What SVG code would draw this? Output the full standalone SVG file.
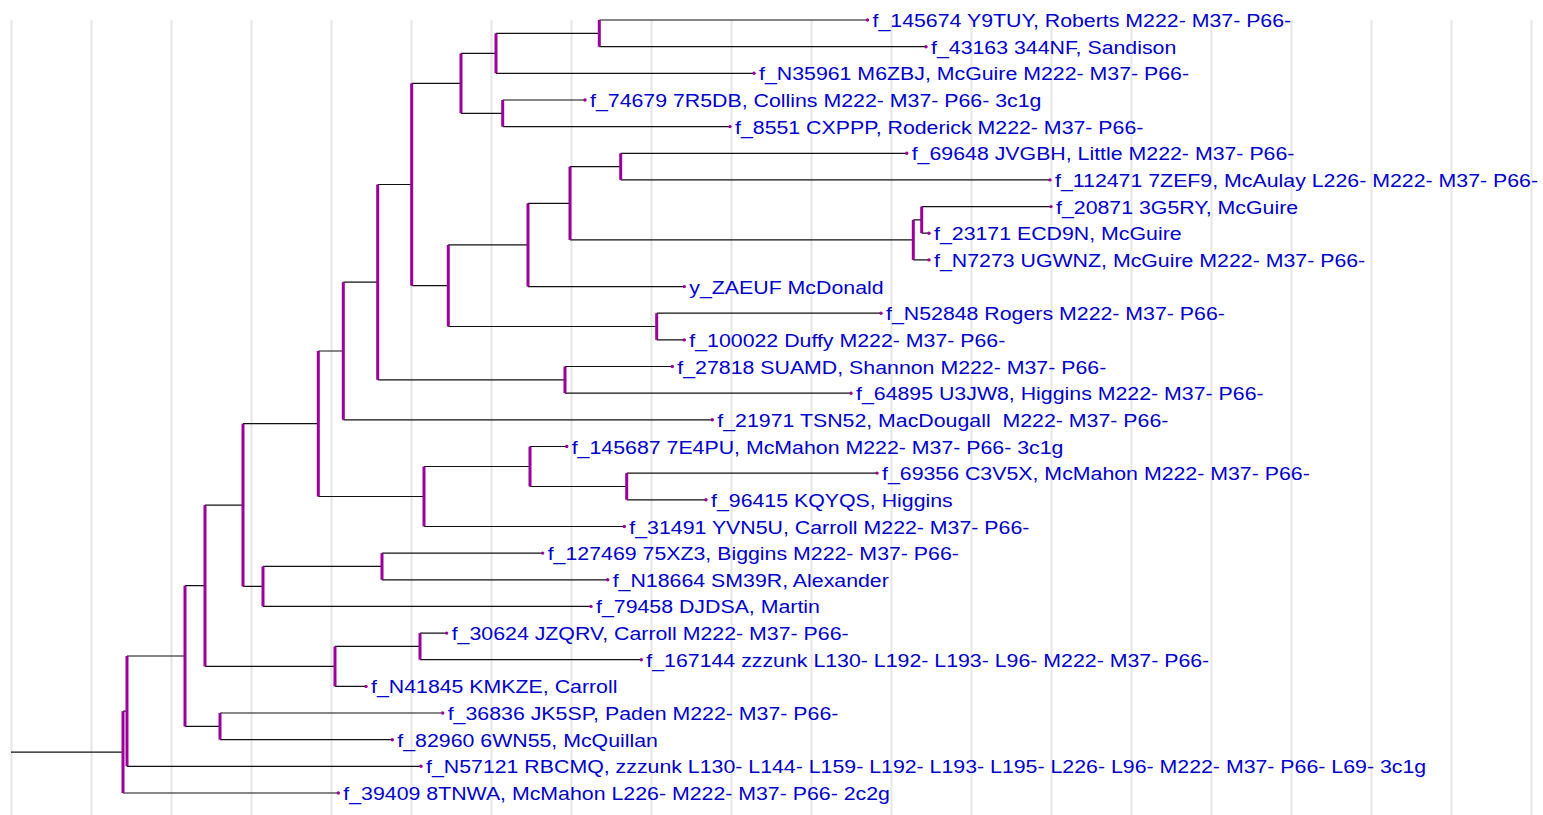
<svg xmlns="http://www.w3.org/2000/svg" width="1543" height="815" viewBox="0 0 1543 815">
<style>
.grid line{stroke:#e6e6e6;stroke-width:2}
.edge{stroke:#111;stroke-width:1.2;fill:none}
.bar{stroke:#990099;stroke-width:3}
.dot{fill:#990099}
.lbl{font-family:"Liberation Sans",Arial,sans-serif;font-size:18.5px;fill:#0000cc;white-space:pre}
</style>
<rect width="1543" height="815" fill="#ffffff"/>
<g class="grid">
<line x1="11.5" y1="20" x2="11.5" y2="815"/><line x1="91.5" y1="20" x2="91.5" y2="815"/><line x1="171.5" y1="20" x2="171.5" y2="815"/><line x1="251.5" y1="20" x2="251.5" y2="815"/><line x1="331.5" y1="20" x2="331.5" y2="815"/><line x1="411.5" y1="20" x2="411.5" y2="815"/><line x1="491.5" y1="20" x2="491.5" y2="815"/><line x1="571.5" y1="20" x2="571.5" y2="815"/><line x1="651.5" y1="20" x2="651.5" y2="815"/><line x1="731.5" y1="20" x2="731.5" y2="815"/><line x1="811.5" y1="20" x2="811.5" y2="815"/><line x1="891.5" y1="20" x2="891.5" y2="815"/><line x1="971.5" y1="20" x2="971.5" y2="815"/><line x1="1051.5" y1="20" x2="1051.5" y2="815"/><line x1="1131.5" y1="20" x2="1131.5" y2="815"/><line x1="1211.5" y1="20" x2="1211.5" y2="815"/><line x1="1291.5" y1="20" x2="1291.5" y2="815"/><line x1="1371.5" y1="20" x2="1371.5" y2="815"/><line x1="1451.5" y1="20" x2="1451.5" y2="815"/><line x1="1531.5" y1="20" x2="1531.5" y2="815"/>
</g>
<g id="connectors" class="edge">
<path d="M11 752.1H123"/>
<path d="M123 711.2H127M123 793H338.3"/>
<path d="M127 656H185M127 766.3H421"/>
<path d="M185 585.7H205M185 726.4H220"/>
<path d="M220 713H442.7M220 739.7H392.3"/>
<path d="M205 505.1H243M205 666.4H335"/>
<path d="M335 646.4H420M335 686.4H366"/>
<path d="M420 633.1H446.7M420 659.7H641.3"/>
<path d="M243 423.7H318.3M243 586.4H263"/>
<path d="M263 566.4H382M263 606.4H591"/>
<path d="M382 553.1H542.7M382 579.8H607.7"/>
<path d="M318.3 351H343.3M318.3 496.5H424"/>
<path d="M424 466.5H530M424 526.5H624.3"/>
<path d="M530 446.5H566.7M530 486.5H626.7"/>
<path d="M626.7 473.1H877M626.7 499.8H706"/>
<path d="M343.3 282.2H377.7M343.3 419.8H712.3"/>
<path d="M377.7 184.5H411.7M377.7 379.8H565"/>
<path d="M565 366.5H672.3M565 393.2H851"/>
<path d="M411.7 83.3H461M411.7 285.7H448.3"/>
<path d="M461 53.3H496M461 113.3H502.7"/>
<path d="M496 33.3H599.3M496 73.3H754"/>
<path d="M599.3 20H867.5M599.3 46.7H926"/>
<path d="M502.7 100H585M502.7 126.6H730"/>
<path d="M448.3 244.9H528M448.3 326.5H656.7"/>
<path d="M656.7 313.2H881M656.7 339.9H684.3"/>
<path d="M528 203.3H570M528 286.6H684.3"/>
<path d="M570 166.6H620.7M570 239.9H913.3"/>
<path d="M620.7 153.3H906.7M620.7 179.9H1050"/>
<path d="M913.3 219.9H921.7M913.3 259.9H929"/>
<path d="M921.7 206.6H1051M921.7 233.2H929"/>
</g>
<g id="internal-nodes" class="bar">
<line id="n_root" x1="123" y1="711.2" x2="123" y2="793"/>
<line id="n_AB" x1="127" y1="656" x2="127" y2="766.3"/>
<line id="n_AA" x1="185" y1="585.7" x2="185" y2="726.4"/>
<line id="n_Z" x1="220" y1="713" x2="220" y2="739.7"/>
<line id="n_Y" x1="205" y1="505.1" x2="205" y2="666.4"/>
<line id="n_X" x1="335" y1="646.4" x2="335" y2="686.4"/>
<line id="n_W" x1="420" y1="633.1" x2="420" y2="659.7"/>
<line id="n_V" x1="243" y1="423.7" x2="243" y2="586.4"/>
<line id="n_U" x1="263" y1="566.4" x2="263" y2="606.4"/>
<line id="n_T" x1="382" y1="553.1" x2="382" y2="579.8"/>
<line id="n_S" x1="318.3" y1="351" x2="318.3" y2="496.5"/>
<line id="n_R" x1="424" y1="466.5" x2="424" y2="526.5"/>
<line id="n_Q" x1="530" y1="446.5" x2="530" y2="486.5"/>
<line id="n_P" x1="626.7" y1="473.1" x2="626.7" y2="499.8"/>
<line id="n_O" x1="343.3" y1="282.2" x2="343.3" y2="419.8"/>
<line id="n_N" x1="377.7" y1="184.5" x2="377.7" y2="379.8"/>
<line id="n_M" x1="565" y1="366.5" x2="565" y2="393.2"/>
<line id="n_L" x1="411.7" y1="83.3" x2="411.7" y2="285.7"/>
<line id="n_D" x1="461" y1="53.3" x2="461" y2="113.3"/>
<line id="n_B" x1="496" y1="33.3" x2="496" y2="73.3"/>
<line id="n_A" x1="599.3" y1="20" x2="599.3" y2="46.7"/>
<line id="n_C" x1="502.7" y1="100" x2="502.7" y2="126.6"/>
<line id="n_K" x1="448.3" y1="244.9" x2="448.3" y2="326.5"/>
<line id="n_J" x1="656.7" y1="313.2" x2="656.7" y2="339.9"/>
<line id="n_I" x1="528" y1="203.3" x2="528" y2="286.6"/>
<line id="n_H" x1="570" y1="166.6" x2="570" y2="239.9"/>
<line id="n_E" x1="620.7" y1="153.3" x2="620.7" y2="179.9"/>
<line id="n_G" x1="913.3" y1="219.9" x2="913.3" y2="259.9"/>
<line id="n_F" x1="921.7" y1="206.6" x2="921.7" y2="233.2"/>
</g>
<g id="leaf0"><circle class="dot" cx="867.5" cy="20" r="1.7"/><text class="lbl" transform="translate(872.5,27) scale(1.153,1)">f_145674 Y9TUY, Roberts M222- M37- P66-</text></g>
<g id="leaf1"><circle class="dot" cx="926" cy="46.7" r="1.7"/><text class="lbl" transform="translate(931,53.7) scale(1.153,1)">f_43163 344NF, Sandison</text></g>
<g id="leaf2"><circle class="dot" cx="754" cy="73.3" r="1.7"/><text class="lbl" transform="translate(759,80.3) scale(1.153,1)">f_N35961 M6ZBJ, McGuire M222- M37- P66-</text></g>
<g id="leaf3"><circle class="dot" cx="585" cy="100" r="1.7"/><text class="lbl" transform="translate(590,107) scale(1.153,1)">f_74679 7R5DB, Collins M222- M37- P66- 3c1g</text></g>
<g id="leaf4"><circle class="dot" cx="730" cy="126.6" r="1.7"/><text class="lbl" transform="translate(735,133.6) scale(1.153,1)">f_8551 CXPPP, Roderick M222- M37- P66-</text></g>
<g id="leaf5"><circle class="dot" cx="906.7" cy="153.3" r="1.7"/><text class="lbl" transform="translate(911.7,160.3) scale(1.153,1)">f_69648 JVGBH, Little M222- M37- P66-</text></g>
<g id="leaf6"><circle class="dot" cx="1050" cy="179.9" r="1.7"/><text class="lbl" transform="translate(1055,186.9) scale(1.153,1)">f_112471 7ZEF9, McAulay L226- M222- M37- P66-</text></g>
<g id="leaf7"><circle class="dot" cx="1051" cy="206.6" r="1.7"/><text class="lbl" transform="translate(1056,213.6) scale(1.153,1)">f_20871 3G5RY, McGuire</text></g>
<g id="leaf8"><circle class="dot" cx="929" cy="233.2" r="1.7"/><text class="lbl" transform="translate(934,240.2) scale(1.153,1)">f_23171 ECD9N, McGuire</text></g>
<g id="leaf9"><circle class="dot" cx="929" cy="259.9" r="1.7"/><text class="lbl" transform="translate(934,266.9) scale(1.153,1)">f_N7273 UGWNZ, McGuire M222- M37- P66-</text></g>
<g id="leaf10"><circle class="dot" cx="684.3" cy="286.6" r="1.7"/><text class="lbl" transform="translate(689.3,293.6) scale(1.153,1)">y_ZAEUF McDonald</text></g>
<g id="leaf11"><circle class="dot" cx="881" cy="313.2" r="1.7"/><text class="lbl" transform="translate(886,320.2) scale(1.153,1)">f_N52848 Rogers M222- M37- P66-</text></g>
<g id="leaf12"><circle class="dot" cx="684.3" cy="339.9" r="1.7"/><text class="lbl" transform="translate(689.3,346.9) scale(1.153,1)">f_100022 Duffy M222- M37- P66-</text></g>
<g id="leaf13"><circle class="dot" cx="672.3" cy="366.5" r="1.7"/><text class="lbl" transform="translate(677.3,373.5) scale(1.153,1)">f_27818 SUAMD, Shannon M222- M37- P66-</text></g>
<g id="leaf14"><circle class="dot" cx="851" cy="393.2" r="1.7"/><text class="lbl" transform="translate(856,400.2) scale(1.153,1)">f_64895 U3JW8, Higgins M222- M37- P66-</text></g>
<g id="leaf15"><circle class="dot" cx="712.3" cy="419.8" r="1.7"/><text class="lbl" xml:space="preserve" transform="translate(717.3,426.8) scale(1.153,1)">f_21971 TSN52, MacDougall  M222- M37- P66-</text></g>
<g id="leaf16"><circle class="dot" cx="566.7" cy="446.5" r="1.7"/><text class="lbl" transform="translate(571.7,453.5) scale(1.153,1)">f_145687 7E4PU, McMahon M222- M37- P66- 3c1g</text></g>
<g id="leaf17"><circle class="dot" cx="877" cy="473.1" r="1.7"/><text class="lbl" transform="translate(882,480.1) scale(1.153,1)">f_69356 C3V5X, McMahon M222- M37- P66-</text></g>
<g id="leaf18"><circle class="dot" cx="706" cy="499.8" r="1.7"/><text class="lbl" transform="translate(711,506.8) scale(1.153,1)">f_96415 KQYQS, Higgins</text></g>
<g id="leaf19"><circle class="dot" cx="624.3" cy="526.5" r="1.7"/><text class="lbl" transform="translate(629.3,533.5) scale(1.153,1)">f_31491 YVN5U, Carroll M222- M37- P66-</text></g>
<g id="leaf20"><circle class="dot" cx="542.7" cy="553.1" r="1.7"/><text class="lbl" transform="translate(547.7,560.1) scale(1.153,1)">f_127469 75XZ3, Biggins M222- M37- P66-</text></g>
<g id="leaf21"><circle class="dot" cx="607.7" cy="579.8" r="1.7"/><text class="lbl" transform="translate(612.7,586.8) scale(1.153,1)">f_N18664 SM39R, Alexander</text></g>
<g id="leaf22"><circle class="dot" cx="591" cy="606.4" r="1.7"/><text class="lbl" transform="translate(596,613.4) scale(1.153,1)">f_79458 DJDSA, Martin</text></g>
<g id="leaf23"><circle class="dot" cx="446.7" cy="633.1" r="1.7"/><text class="lbl" transform="translate(451.7,640.1) scale(1.153,1)">f_30624 JZQRV, Carroll M222- M37- P66-</text></g>
<g id="leaf24"><circle class="dot" cx="641.3" cy="659.7" r="1.7"/><text class="lbl" transform="translate(646.3,666.7) scale(1.153,1)">f_167144 zzzunk L130- L192- L193- L96- M222- M37- P66-</text></g>
<g id="leaf25"><circle class="dot" cx="366" cy="686.4" r="1.7"/><text class="lbl" transform="translate(371,693.4) scale(1.153,1)">f_N41845 KMKZE, Carroll</text></g>
<g id="leaf26"><circle class="dot" cx="442.7" cy="713" r="1.7"/><text class="lbl" transform="translate(447.7,720) scale(1.153,1)">f_36836 JK5SP, Paden M222- M37- P66-</text></g>
<g id="leaf27"><circle class="dot" cx="392.3" cy="739.7" r="1.7"/><text class="lbl" transform="translate(397.3,746.7) scale(1.153,1)">f_82960 6WN55, McQuillan</text></g>
<g id="leaf28"><circle class="dot" cx="421" cy="766.3" r="1.7"/><text class="lbl" transform="translate(426,773.3) scale(1.153,1)">f_N57121 RBCMQ, zzzunk L130- L144- L159- L192- L193- L195- L226- L96- M222- M37- P66- L69- 3c1g</text></g>
<g id="leaf29"><circle class="dot" cx="338.3" cy="793" r="1.7"/><text class="lbl" transform="translate(343.3,800) scale(1.153,1)">f_39409 8TNWA, McMahon L226- M222- M37- P66- 2c2g</text></g>
</svg>
